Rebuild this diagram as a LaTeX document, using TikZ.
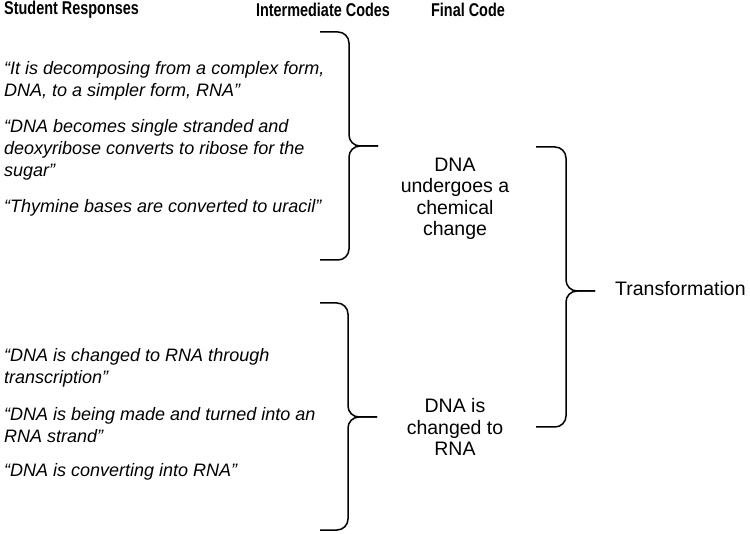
\documentclass[tikz,border=0pt]{standalone}
\usepackage{fontspec}
\setmainfont{Liberation Sans}
\usetikzlibrary{calc,positioning}
\newcommand{\narrowhead}[1]{\scalebox{0.78}[1]{#1}}
\tikzset{
  header/.style={
    font=\fontsize{18.5}{20}\selectfont\bfseries,
    inner sep=0pt},
  quote/.style={
    font=\fontsize{18}{22}\selectfont\itshape,
    align=left,
    anchor=west,
    inner sep=0pt},
  code/.style={
    font=\fontsize{19.5}{21.5}\selectfont,
    align=center,
    inner sep=0pt},
  tuborg/.style={draw, line width=1.5pt, rounded corners=11pt},
}

\begin{document}
\begin{tikzpicture}[x=1pt,y=-1pt]
  \useasboundingbox (0,0) rectangle (750,534);
  % column heads
  \node[header, anchor=west] (StudentHead) at (4,10) {\narrowhead{Student Responses}};
  \node[header] (InterHead) at (323,10) {\narrowhead{Intermediate Codes}};
  \node[header] (FinalHead) at (468,10) {\narrowhead{Final Code}};

  % student responses
  \node[quote] (Decomposing) at (4,81) {“It is decomposing from a complex form,\\DNA, to a simpler form, RNA”};
  \node[quote] (SingleStrand) at (4,150) {“DNA becomes single stranded and\\deoxyribose converts to ribose for the\\sugar”};
  \node[quote] (Thymine) at (4,208) {“Thymine bases are converted to uracil”};
  \node[quote] (Transcription) at (4,368) {“DNA is changed to RNA through\\transcription”};
  \node[quote] (BeingMade) at (4,425) {“DNA is being made and turned into an\\RNA strand”};
  \node[quote] (Converting) at (4,472) {“DNA is converting into RNA”};

  % intermediate and final codes
  \node[code] (ChemChange) at (455,199) {DNA\\undergoes a\\chemical\\change};
  \node[code] (ChangedRNA) at (455,427) {DNA is\\changed to\\RNA};
  \node[code, anchor=west] (Transformation) at (615,289) {Transformation};

  % braces
  \coordinate (ChemTop) at (320,32);
  \coordinate (ChemBot) at (320,260);
  \coordinate (ChemMid) at (349,146);
  \coordinate (ChemTip) at (378,146);
  \draw[tuborg] (ChemTop) -| (ChemMid) -- (ChemTip);
  \draw[tuborg] (ChemBot) -| (ChemMid) -- (ChemTip);

  \coordinate (RnaTop) at (320,303);
  \coordinate (RnaBot) at (320,530);
  \coordinate (RnaMid) at (348,417);
  \coordinate (RnaTip) at (377,417);
  \draw[tuborg] (RnaTop) -| (RnaMid) -- (RnaTip);
  \draw[tuborg] (RnaBot) -| (RnaMid) -- (RnaTip);

  \coordinate (FinalTop) at (536,147);
  \coordinate (FinalBot) at (536,427);
  \coordinate (FinalMid) at (566,291);
  \coordinate (FinalTip) at (595,291);
  \draw[tuborg] (FinalTop) -| (FinalMid) -- (FinalTip);
  \draw[tuborg] (FinalBot) -| (FinalMid) -- (FinalTip);
\end{tikzpicture}
\end{document}
